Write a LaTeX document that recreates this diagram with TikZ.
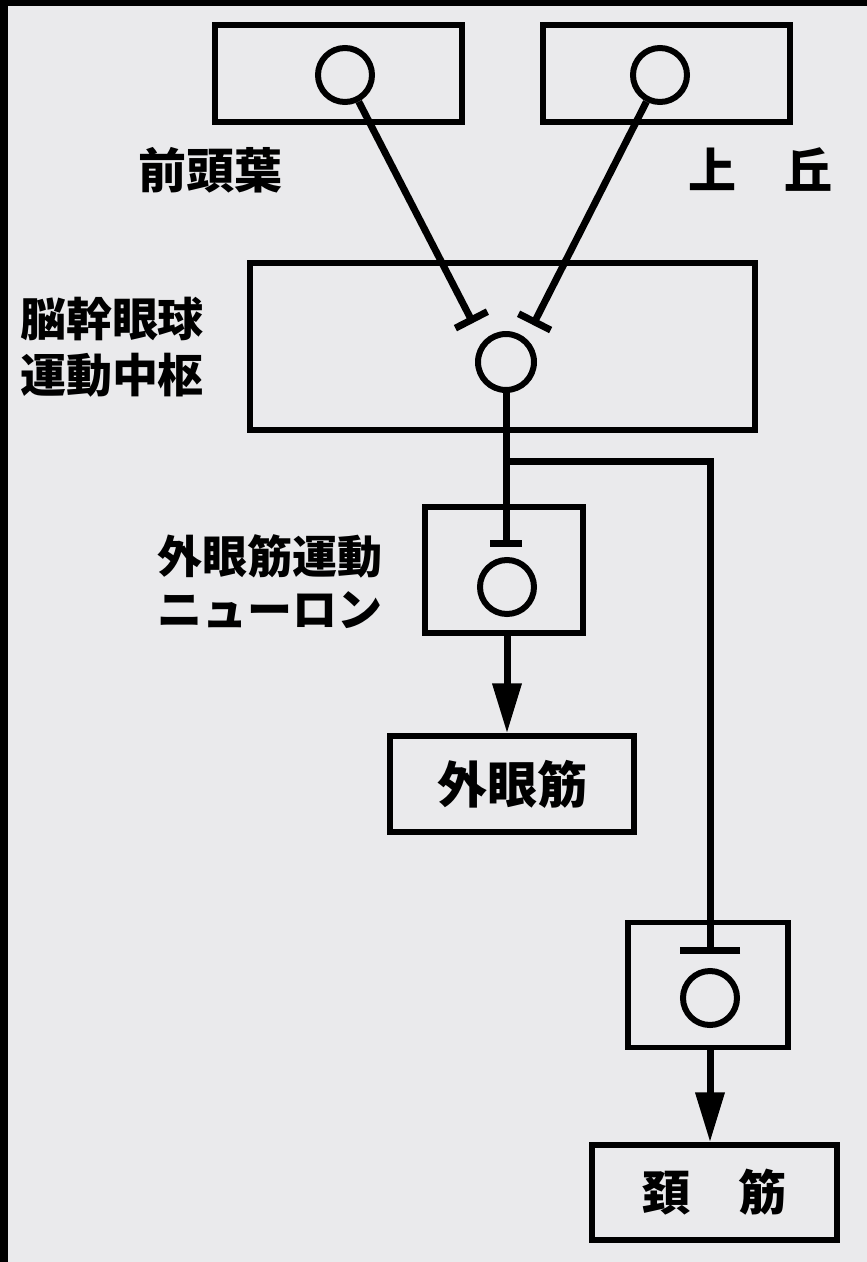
\documentclass[tikz,border=0pt]{standalone}
\usepackage{fontspec}
\newfontfamily\jp{Noto Sans CJK JP}
\usetikzlibrary{arrows.meta}
\definecolor{paper}{HTML}{EAEAEC}
\tikzset{
  box/.style={draw, line width=5.5pt, rectangle, inner sep=0pt},
  cell/.style={draw, line width=6pt, circle, inner sep=0pt, minimum size=54pt},
  wire/.style={line width=7pt},
  syn/.style={wire, -{Bar[width=#1, line width=7pt]}},
  syn/.default=36pt,
  arr/.style={wire, -{Triangle[length=50pt, width=28pt]}},
  lab/.style={font=\jp\bfseries\fontsize{48pt}{56pt}\selectfont, inner sep=0pt},
}
\begin{document}
\begin{tikzpicture}[x=1pt,y=-1pt]
\fill[paper] (0,0) rectangle (867,1262);
\fill[black] (0,0) rectangle (8,1262);
\fill[black] (0,0) rectangle (867,6);
\useasboundingbox (0,0) rectangle (867,1262);

% boxes
\node[box, minimum width=247pt, minimum height=97pt] (boxA) at (338.5,73.5) {};
\node[box, minimum width=247pt, minimum height=97pt] (boxB) at (666.5,73.5) {};
\node[box, minimum width=505pt, minimum height=167pt] (boxM) at (502.5,346.5) {};
\node[box, minimum width=158pt, minimum height=126pt] (boxC) at (504,570) {};
\node[box, minimum width=244pt, minimum height=96pt, font=\jp\bfseries\fontsize{50pt}{56pt}\selectfont] (boxE) at (512,784) {外眼筋};
\node[box, minimum width=160pt, minimum height=125pt] (boxD) at (708,985) {};
\node[box, minimum width=245pt, minimum height=95pt, font=\jp\bfseries\fontsize{48pt}{56pt}\selectfont] (boxF) at (714.5,1192.5) {頚　筋};

% neurons
\node[cell] (cA) at (345,75) {};
\node[cell] (cB) at (660,75) {};
\node[cell, minimum size=56pt] (cM) at (506,362) {};
\node[cell] (cC) at (507,587) {};
\node[cell] (cD) at (710,998) {};

% labels
\node[lab] (lA) at (210,170) {前頭葉};
\node[lab] (lB) at (760,170) {上　丘};
\node[lab, font=\jp\bfseries\fontsize{46pt}{56pt}\selectfont, align=left] (lM) at (112,347) {脳幹眼球\\運動中枢};
\node[lab, font=\jp\bfseries\fontsize{45pt}{54pt}\selectfont] (lC1) at (270,556) {外眼筋運動};
\node[lab, font=\jp\bfseries\fontsize{45pt}{54pt}\selectfont] (lC2) at (270,610) {ニューロン};

% connection points
\coordinate (tA) at (473,323);
\coordinate (tB) at (533,325);
\coordinate (J) at (506,461);
\coordinate (K) at (710,461);
\coordinate (tC) at (506,547);
\coordinate (tD) at (710,954);

% connectors
\draw[syn] (cA) -- (tA);
\draw[syn] (cB) -- (tB);
\draw[wire] (cM) -- (J);
\draw[syn=32pt] (J) -- (tC);
\draw[syn=60pt] (J) -- (K) -- (tD);
\draw[arr] (boxC.south -| cC) -- (boxE.north -| cC);
\draw[arr] (boxD.south -| cD) -- (boxF.north -| cD);
\end{tikzpicture}
\end{document}
